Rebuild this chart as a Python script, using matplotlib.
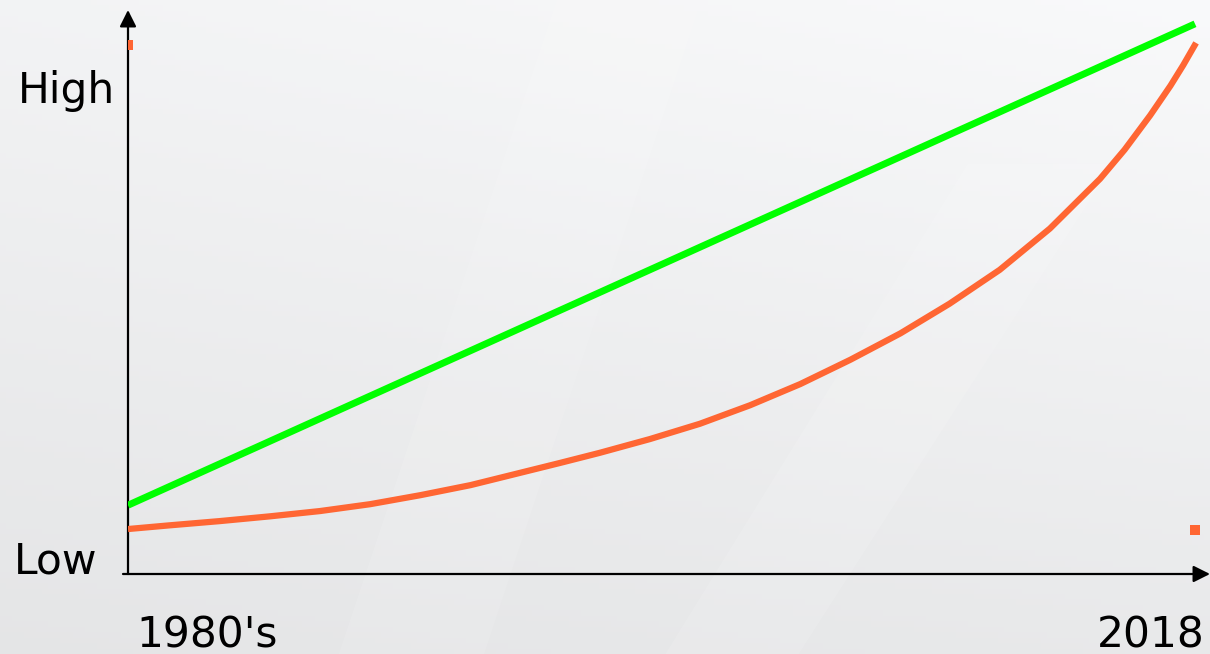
import numpy as np
import matplotlib
matplotlib.use("Agg")
import matplotlib.pyplot as plt

# =============================
# Dados (unidades arbitrárias)
# =============================
green_x = [0.0, 10.0]
green_y = [1.30, 10.40]

orange_x = [0.00, 0.39, 0.86, 1.33, 1.80, 2.27, 2.74, 3.21, 3.67, 4.05, 4.42, 4.89, 5.36,
            5.83, 6.30, 6.77, 7.24, 7.70, 8.17, 8.64, 9.11, 9.34, 9.58, 9.77, 9.89, 10.01]
orange_y = [0.85, 0.92, 1.00, 1.09, 1.19, 1.32, 1.49, 1.68, 1.91, 2.10, 2.29, 2.55, 2.84,
            3.19, 3.59, 4.05, 4.55, 5.11, 5.75, 6.53, 7.47, 8.02, 8.67, 9.23, 9.62, 10.04]

marker_x = [0.0, 10.0]
marker_y = [10.0, 0.83]

x_labels = ["1980's", "2018"]
y_labels = ["Low", "High"]

W, H = 1210, 654
fig = plt.figure(figsize=(W / 100, H / 100), dpi=100)

# fundo cinza claro em degradê
bg = fig.add_axes([0, 0, 1, 1])
bg.set_axis_off()
gx, gy = np.meshgrid(np.linspace(0, 1, 200), np.linspace(0, 1, 120))
tl, tr, bl, br = 0.955, 0.980, 0.900, 0.915
val = (tl * (1 - gx) * (1 - gy) + tr * gx * (1 - gy) + bl * (1 - gx) * gy + br * gx * gy)
img = np.dstack([val * 0.996, val * 0.999, val * 1.004])
img = np.clip(img, 0, 1)
bg.imshow(img, extent=[0, 1, 0, 1], aspect="auto", origin="upper")
# faixas diagonais mais claras (sutis)
bg.fill([0.28, 0.40, 0.58, 0.46], [0, 0, 1, 1], color="white", alpha=0.10, lw=0)
bg.fill([0.55, 0.66, 0.92, 0.80], [0, 0, 0.75, 0.75], color="white", alpha=0.12, lw=0)
bg.set_xlim(0, 1)
bg.set_ylim(0, 1)

# eixo principal
x0, y0 = 128, 574
ax = fig.add_axes([x0 / W, (H - y0) / H, (W - x0) / W, (y0 - 10) / H])
ax.patch.set_alpha(0)
ax.set_xlim(0, (W - x0) / 106.7)
ax.set_ylim(0, (y0 - 10) / 52.9)
for s in ax.spines.values():
    s.set_visible(False)
ax.set_xticks([])
ax.set_yticks([])

# setas dos eixos
ax.annotate("", xy=(1, 0), xytext=(-5 / (W - x0), 0), xycoords="axes fraction",
            arrowprops=dict(arrowstyle="-|>,head_length=1.0,head_width=0.5", color="black", lw=1.6,
                            shrinkA=0, shrinkB=0))
ax.annotate("", xy=(0, 1), xytext=(0, 0), xycoords="axes fraction",
            arrowprops=dict(arrowstyle="-|>,head_length=1.0,head_width=0.5", color="black", lw=1.6,
                            shrinkA=0, shrinkB=0))

ax.plot(green_x, green_y, color="#00ff00", lw=5.0, solid_capstyle="butt", zorder=3)
ax.plot(orange_x, orange_y, color="#ff6633", lw=4.5, solid_capstyle="butt",
        solid_joinstyle="round", zorder=3)
ax.plot(marker_x, marker_y, ls="none", marker="s", ms=6.5, mew=0, color="#ff6633", zorder=4)

fs = 30.5
fig.text(115 / W, 1 - 103 / H, y_labels[1], ha="right", va="baseline", fontsize=fs)
fig.text(14 / W, 1 - 573 / H, y_labels[0], ha="left", va="baseline", fontsize=fs)
fig.text(136 / W, 1 - 647 / H, x_labels[0], ha="left", va="baseline", fontsize=fs)
fig.text(1205 / W, 1 - 647 / H, x_labels[1], ha="right", va="baseline", fontsize=fs)

fig.savefig("out.png", dpi=100)
